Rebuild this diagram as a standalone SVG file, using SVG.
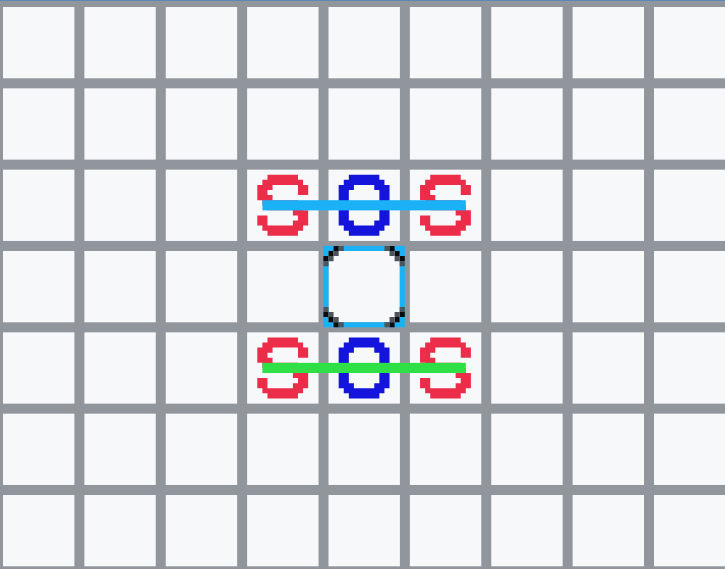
<svg xmlns="http://www.w3.org/2000/svg" xmlns:xlink="http://www.w3.org/1999/xlink" width="725" height="569" viewBox="0 0 725 569">
  <style>
    .cell { fill: #f7f8fa; }
    .red { fill: #ec2d4a; }
    .blue { fill: #1414dd; }
    .px-black { fill: #0b0b0b; }
    .px-gray { fill: #4f545b; }
  </style>
  <defs>
    <g id="row">
      <rect class="cell" x="3" width="71.4" height="71.3"/>
      <rect class="cell" x="84.375" width="71.4" height="71.3"/>
      <rect class="cell" x="165.75" width="71.4" height="71.3"/>
      <rect class="cell" x="247.125" width="71.4" height="71.3"/>
      <rect class="cell" x="328.5" width="71.4" height="71.3"/>
      <rect class="cell" x="409.875" width="71.4" height="71.3"/>
      <rect class="cell" x="491.25" width="71.4" height="71.3"/>
      <rect class="cell" x="572.625" width="71.4" height="71.3"/>
      <rect class="cell" x="654" width="71.4" height="71.3"/>
    </g>
    <path id="S" d="M2 0h6v1h-6z M1 1h8v1h-8z M0 2h3v1h-3z M8 2h2v1h-2z M0 3h2v1h-2z M8 3h2v1h-2z M0 4h3v1h-3z M1 5h7v1h-7z M2 6h7v1h-7z M7 7h3v1h-3z M0 8h2v1h-2z M8 8h2v1h-2z M0 9h2v1h-2z M7 9h3v1h-3z M1 10h8v1h-8z M2 11h6v1h-6z"/>
    <path id="O" d="M2 0h6v1h-6z M1 1h8v1h-8z M0 2h3v1h-3z M7 2h3v1h-3z M0 3h2v6h-2z M8 3h2v6h-2z M0 9h3v1h-3z M7 9h3v1h-3z M1 10h8v1h-8z M2 11h6v1h-6z"/>
  </defs>

  <!-- board -->
  <g id="board">
    <rect x="0" y="0" width="725" height="569" fill="#91969d"/>
    <rect x="0" y="0" width="725" height="1" fill="#5d87b6"/>
    <use xlink:href="#row" href="#row" y="7"/>
    <use xlink:href="#row" href="#row" y="88.33"/>
    <use xlink:href="#row" href="#row" y="169.66"/>
    <use xlink:href="#row" href="#row" y="251"/>
    <use xlink:href="#row" href="#row" y="332.33"/>
    <use xlink:href="#row" href="#row" y="413.66"/>
    <use xlink:href="#row" href="#row" y="495"/>
  </g>

  <!-- highlighted cell -->
  <g id="highlight">
    <rect x="325.95" y="248.45" width="76.3" height="76.3" fill="none" stroke="#1bb1f6" stroke-width="5.086"/>
    <g transform="translate(323.41,245.91) scale(5.086)">
      <path class="px-black" d="M2 0h1v1h-1z M1 1h1v1h-1z M0 2h1v1h-1z M13 0h1v1h-1z M14 1h1v1h-1z M15 2h1v1h-1z M2 15h1v1h-1z M1 14h1v1h-1z M0 13h1v1h-1z M13 15h1v1h-1z M14 14h1v1h-1z M15 13h1v1h-1z"/>
      <path class="px-gray" d="M3 0h1v1h-1z M2 1h1v1h-1z M1 2h1v1h-1z M0 3h1v1h-1z M12 0h1v1h-1z M13 1h1v1h-1z M14 2h1v1h-1z M15 3h1v1h-1z M3 15h1v1h-1z M2 14h1v1h-1z M1 13h1v1h-1z M0 12h1v1h-1z M12 15h1v1h-1z M13 14h1v1h-1z M14 13h1v1h-1z M15 12h1v1h-1z"/>
    </g>
  </g>

  <!-- letters -->
  <g id="s-top-left" class="red"><use xlink:href="#S" href="#S" transform="translate(257.3,174.75) scale(5.086)"/></g>
  <g id="o-top" class="blue"><use xlink:href="#O" href="#O" transform="translate(338.67,174.75) scale(5.086)"/></g>
  <g id="s-top-right" class="red"><use xlink:href="#S" href="#S" transform="translate(420.05,174.75) scale(5.086)"/></g>
  <g id="s-bottom-left" class="red"><use xlink:href="#S" href="#S" transform="translate(257.3,337.41) scale(5.086)"/></g>
  <g id="o-bottom" class="blue"><use xlink:href="#O" href="#O" transform="translate(338.67,337.41) scale(5.086)"/></g>
  <g id="s-bottom-right" class="red"><use xlink:href="#S" href="#S" transform="translate(420.05,337.41) scale(5.086)"/></g>

  <!-- strike lines -->
  <g id="connectors">
    <rect x="262.4" y="200.2" width="203.4" height="10.17" fill="#1bb1f6"/>
    <rect x="262.4" y="362.85" width="203.4" height="10.17" fill="#2ee045"/>
  </g>
</svg>
